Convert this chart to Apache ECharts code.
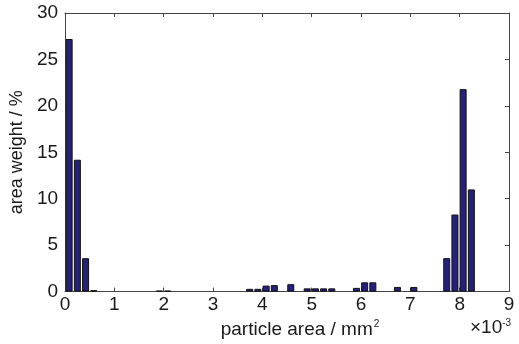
<!DOCTYPE html>
<html>
<head>
<meta charset="utf-8">
<script src="https://cdn.jsdelivr.net/npm/echarts/dist/echarts.min.js"></script>
<style>
  html, body { margin: 0; padding: 0; background: #fff; }
  #chart { width: 519px; height: 344px; }
</style>
</head>
<body>
<div id="chart"></div>
<script>
// bin centres (x 10^-3 mm^2) of the non-empty bins
var binCenters = [0.083, 0.250, 0.416, 0.582, 1.914, 2.080, 3.744, 3.910, 4.077, 4.243,
  4.576, 4.909, 5.075, 5.242, 5.408, 5.907, 6.074, 6.240, 6.739, 7.072,
  7.738, 7.904, 8.070, 8.237];
// area weight in %
var areaWeight = [27.2, 14.2, 3.6, 0.15, 0.1, 0.1, 0.3, 0.3, 0.65, 0.7,
  0.8, 0.35, 0.35, 0.35, 0.35, 0.4, 1.0, 1.0, 0.5, 0.5,
  3.6, 8.3, 21.8, 11.0];
var xTicks = [0, 9, 1];   // min, max, step
var yTicks = [0, 30, 5];

var font = '"Liberation Sans", Arial, sans-serif';
var axisColor = '#444';
var textColor = '#1a1a1a';

var chart = echarts.init(document.getElementById('chart'));

var barData = binCenters.map(function (x, i) { return [x, areaWeight[i]]; });

function mirrorAxis(pos, ticks) {
  return {
    type: 'value',
    position: pos,
    min: ticks[0],
    max: ticks[1],
    interval: ticks[2],
    axisLine: { show: true, onZero: false, lineStyle: { color: axisColor, width: 1 } },
    axisTick: { show: true, inside: true, length: 4, lineStyle: { color: axisColor } },
    axisLabel: { show: false },
    splitLine: { show: false }
  };
}

var option = {
  animation: false,
  backgroundColor: '#fff',
  grid: { left: 65, right: 10, top: 13, bottom: 47 },
  xAxis: [{
    type: 'value',
    min: xTicks[0],
    max: xTicks[1],
    interval: xTicks[2],
    name: '{t|particle area / mm}{s|2}',
    nameLocation: 'middle',
    nameGap: 22,
    nameTextStyle: {
      padding: [0, 0, 0, 26],
      rich: {
        t: { fontFamily: font, fontSize: 19, color: textColor },
        s: { fontFamily: font, fontSize: 10, color: textColor, verticalAlign: 'top', padding: [0, 0, 10, 1] }
      }
    },
    axisLine: { show: true, onZero: false, lineStyle: { color: axisColor, width: 1 } },
    axisTick: { show: true, inside: true, length: 4, lineStyle: { color: axisColor } },
    axisLabel: { fontFamily: font, fontSize: 19, color: textColor, margin: 4 },
    splitLine: { show: false }
  }, mirrorAxis('top', xTicks)],
  yAxis: [{
    type: 'value',
    min: yTicks[0],
    max: yTicks[1],
    interval: yTicks[2],
    name: 'area weight / %',
    nameLocation: 'middle',
    nameGap: 30,
    nameTextStyle: { fontFamily: font, fontSize: 18, color: textColor },
    axisLine: { show: true, onZero: false, lineStyle: { color: axisColor, width: 1 } },
    axisTick: { show: true, inside: true, length: 4, lineStyle: { color: axisColor } },
    axisLabel: { fontFamily: font, fontSize: 19, color: textColor, margin: 7 },
    splitLine: { show: false }
  }, mirrorAxis('right', yTicks)],
  graphic: [{
    type: 'text',
    left: 470,
    top: 318,
    style: {
      text: '×10{s|-3}',
      fontFamily: font,
      fontSize: 19,
      fill: textColor,
      rich: {
        s: { fontFamily: font, fontSize: 10, fill: textColor, verticalAlign: 'top', padding: [0, 0, 10, 0] }
      }
    }
  }],
  series: [{
    type: 'bar',
    xAxisIndex: 0,
    yAxisIndex: 0,
    data: barData,
    barWidth: 7,
    itemStyle: { color: '#25217a', borderColor: '#111', borderWidth: 1 }
  }]
};

chart.setOption(option);
</script>
</body>
</html>
